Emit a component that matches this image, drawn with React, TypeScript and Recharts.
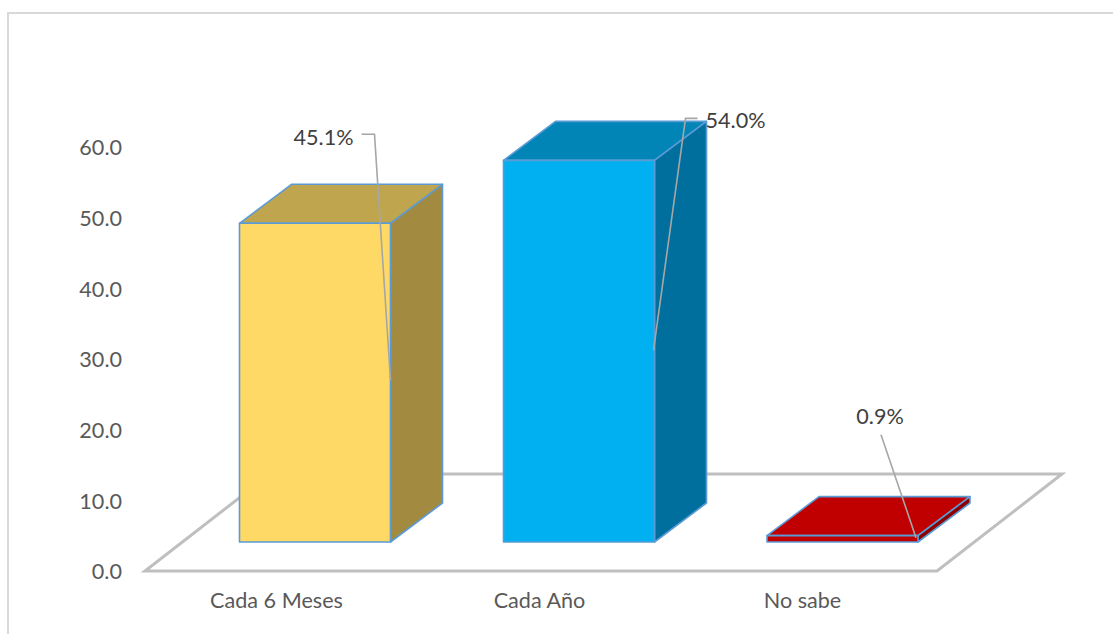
import React from 'react';
import { BarChart, Bar, XAxis, YAxis, ReferenceArea, LabelList } from 'recharts';

const categories = ['Cada 6 Meses', 'Cada Año', 'No sabe'];
const percentages = [45.1, 54.0, 0.9];
const yTicks = [0, 10, 20, 30, 40, 50, 60];

const frontColors = ['#FFD966', '#00B0F0', '#C00000'];
const topColors = ['#BFA54D', '#0085B6', '#C00000'];
const sideColors = ['#A28B40', '#006F9E', '#8F0000'];
const barShifts = [38.5, 39.5, 40];

const data = categories.map((name, i) => ({ name, value: percentages[i] }));

const W = 1113;
const H = 634;
const DX = 52;
const DY = 39;
const SHIFT_Y = 29;
const EDGE = '#5B9BD5';
const FONT = 'Lato, "Open Sans", sans-serif';
const FONT_SIZE = 21.6;

function Floor(props: any) {
  const { x, y, width, height } = props;
  const b = y + height;
  const pts = [
    [x, b],
    [x + width + 3, b],
    [x + width + 128, b - 97],
    [x + 125, b - 97],
  ];
  return (
    <polygon
      points={pts.map((p) => p.join(',')).join(' ')}
      fill="none"
      stroke="#BFBFBF"
      strokeWidth={3}
    />
  );
}

function Bar3D(props: any) {
  const { x, y, width, height, index } = props;
  const l = x + barShifts[index];
  const r = l + width;
  const t = y - SHIFT_Y;
  const b = t + height;
  const common = { stroke: EDGE, strokeWidth: 1.6, strokeLinejoin: 'round' as const };
  return (
    <g>
      <polygon
        points={`${l},${t} ${r},${t} ${r + DX},${t - DY} ${l + DX},${t - DY}`}
        fill={topColors[index]}
        {...common}
      />
      <polygon
        points={`${r},${t} ${r + DX},${t - DY} ${r + DX},${b - DY} ${r},${b}`}
        fill={sideColors[index]}
        {...common}
      />
      <rect x={l} y={t} width={width} height={height} fill={frontColors[index]} {...common} />
    </g>
  );
}

function Callout(props: any) {
  const { x, y, value, index } = props;
  const l = x + barShifts[index];
  const t = y - SHIFT_Y;
  const text = `${Number(value).toFixed(1)}%`;
  const lineProps = { fill: 'none', stroke: '#A6A6A6', strokeWidth: 1.6 };
  const textProps = { fontFamily: FONT, fontSize: FONT_SIZE, fill: '#404040', dominantBaseline: 'central' as const };
  if (index === 0) {
    return (
      <g>
        <polyline points={`${l + 122},${t - 89} ${l + 135},${t - 89} ${l + 151},${t + 157}`} {...lineProps} />
        <text x={l + 114} y={t - 86.5} textAnchor="end" {...textProps}>{text}</text>
      </g>
    );
  }
  if (index === 1) {
    return (
      <g>
        <polyline points={`${l + 194},${t - 42} ${l + 182},${t - 42} ${l + 150},${t + 190}`} {...lineProps} />
        <text x={l + 202} y={t - 40} textAnchor="start" {...textProps}>{text}</text>
      </g>
    );
  }
  return (
    <g>
      <polyline points={`${l + 114},${t - 101} ${l + 149},${t + 2}`} {...lineProps} />
      <text x={l + 113} y={t - 119.5} textAnchor="middle" {...textProps}>{text}</text>
    </g>
  );
}

export default function App() {
  return (
    <div style={{ position: 'absolute', left: 0, top: 0, width: W, height: H, overflow: 'hidden', background: '#fff' }}>
      <div
        style={{
          position: 'absolute',
          left: 7,
          top: 12,
          right: 0,
          bottom: 0,
          borderLeft: '2px solid #D9D9D9',
          borderTop: '2px solid #D9D9D9',
        }}
      />
      <BarChart
        width={W}
        height={H}
        data={data}
        barSize={151}
        margin={{ left: 0, right: 179, top: 147, bottom: 0 }}
        style={{ position: 'absolute', left: 0, top: 0 }}
      >
        <XAxis
          dataKey="name"
          axisLine={false}
          tickLine={false}
          tickMargin={16}
          height={63}
          interval={0}
          tick={{ fontFamily: FONT, fontSize: FONT_SIZE, fill: '#595959' }}
        />
        <YAxis
          width={145}
          domain={[0, 60]}
          ticks={yTicks}
          axisLine={false}
          tickLine={false}
          tickMargin={17}
          tickFormatter={(v: number) => v.toFixed(1)}
          tick={{ fontFamily: FONT, fontSize: FONT_SIZE, fill: '#595959', dy: 0.8 }}
        />
        <ReferenceArea y1={0} y2={60} shape={Floor} ifOverflow="visible" />
        <Bar dataKey="value" shape={Bar3D} isAnimationActive={false}>
          <LabelList dataKey="value" content={Callout} />
        </Bar>
      </BarChart>
    </div>
  );
}
